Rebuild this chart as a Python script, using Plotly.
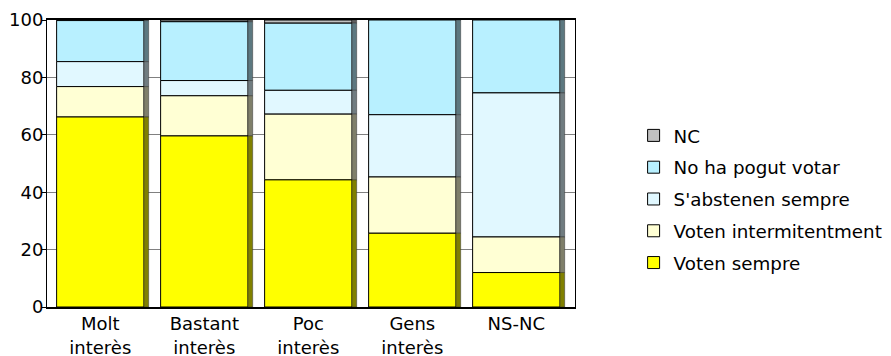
import plotly.graph_objects as go
import numpy as np

categories = ["Molt<br>interès", "Bastant<br>interès", "Poc<br>interès", "Gens<br>interès", "NS-NC"]

series_names = ["Voten sempre", "Voten intermitentment", "S'abstenen sempre", "No ha pogut votar", "NC"]
voten_sempre = [66.2, 59.6, 44.3, 25.7, 12.0]
voten_intermitentment = [10.6, 14.0, 22.9, 19.6, 12.4]
abstenen_sempre = [8.7, 5.3, 8.3, 21.7, 50.2]
no_ha_pogut = [14.3, 20.5, 23.4, 33.0, 25.4]
nc = [0.2, 0.6, 1.1, 0.0, 0.0]

front_colors = ["#FFFF00", "#FFFFD4", "#E1F8FF", "#B8F0FF", "#C0C0C0"]
side_colors = ["#808000", "#7F7F6A", "#707C80", "#5C7880", "#606060"]

all_series = [voten_sempre, voten_intermitentment, abstenen_sempre, no_ha_pogut, nc]

# stacking bases computed from the data
bases = []
acc = np.zeros(len(categories))
for vals in all_series:
    bases.append(acc.copy())
    acc = acc + np.array(vals)

fig = go.Figure()
# add in reverse so the legend lists NC first, as in the original
for i in reversed(range(len(all_series))):
    name = series_names[i]
    vals = np.array(all_series[i])
    fig.add_trace(go.Bar(
        x=categories, y=vals, base=bases[i], name=name,
        width=0.84, offset=-0.42,
        marker=dict(color=front_colors[i], line=dict(color="#000000", width=1)),
        legendgroup=name, showlegend=True,
        hoverinfo="name+y",
    ))
    fig.add_trace(go.Bar(
        x=categories, y=vals, base=bases[i], name=name,
        width=0.045, offset=0.42,
        marker=dict(color=side_colors[i], line=dict(color="#303030", width=0.5)),
        legendgroup=name, showlegend=False,
        hoverinfo="skip",
    ))

# page body has an 8px default margin, so the figure is sized to fit the window
fig.update_layout(
    width=883, height=348,
    margin=dict(l=39, r=316, t=12, b=49, autoexpand=False),
    barmode="overlay",
    plot_bgcolor="#FFFFFF",
    paper_bgcolor="#FFFFFF",
    font=dict(family="DejaVu Sans, Verdana, sans-serif", size=18, color="#000000"),
    showlegend=True,
    legend=dict(
        x=1.111, xanchor="left", y=0.662, yanchor="top",
        traceorder="grouped", tracegroupgap=5.0,
        font=dict(size=18.3), bgcolor="rgba(0,0,0,0)",
        itemwidth=30,
    ),
)
fig.update_xaxes(
    range=[-0.5125, 4.5644], automargin=False,
    showline=True, linecolor="#000000", linewidth=1.5, mirror=True,
    ticks="", showgrid=False, tickfont=dict(size=18),
)
fig.update_yaxes(
    range=[0, 100], dtick=20, tick0=0, automargin=False,
    showline=True, linecolor="#000000", linewidth=1, mirror=True,
    ticks="outside", ticklen=4, tickcolor="#000000",
    showgrid=True, gridcolor="#808080", gridwidth=1,
    zeroline=False, tickfont=dict(size=18), ticklabelstandoff=-5,
)

fig.write_html("out.html")
